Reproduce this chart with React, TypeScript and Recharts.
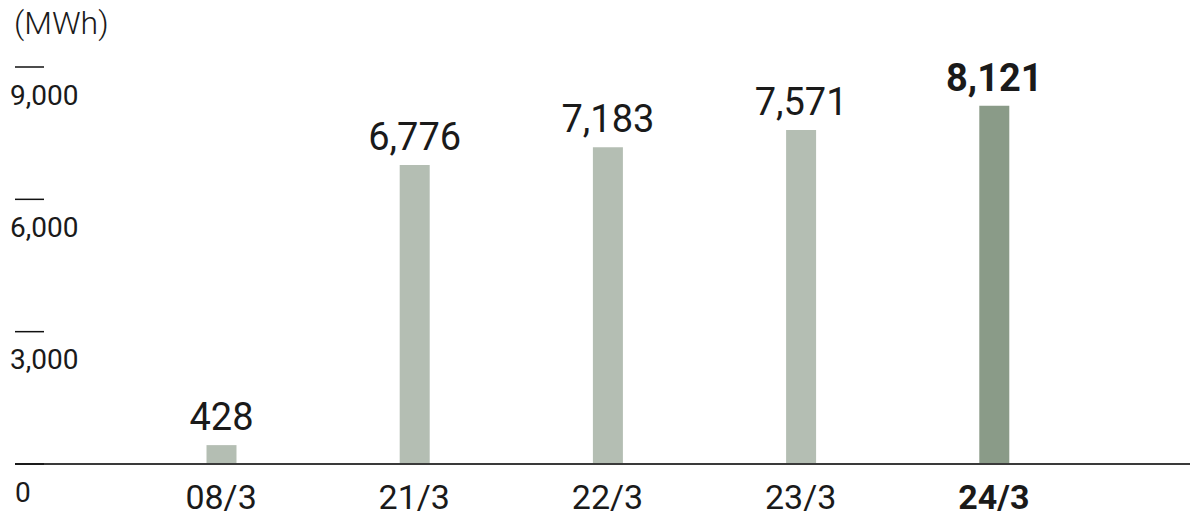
import { BarChart, Bar, XAxis, YAxis, Cell, LabelList } from "recharts";

const periods = ["08/3", "21/3", "22/3", "23/3", "24/3"];
const energyMWh = [428, 6776, 7183, 7571, 8121];
const yTicks = [0, 3000, 6000, 9000];
const latestPeriod = "24/3";

const data = periods.map((period, i) => ({ period, value: energyMWh[i] }));

const TEXT = "#1a1a1a";

function YTick({ y, payload }: any) {
  const v = payload.value as number;
  return (
    <g>
      <line x1={15} x2={44} y1={y} y2={y} stroke="#111" strokeWidth={1.5} />
      <text
        x={v === 0 ? 15 : 10}
        y={y + 28}
        dominantBaseline="central"
        fontSize={28}
        fill={TEXT}
        fontFamily="Roboto"
      >
        {v.toLocaleString("en-US")}
      </text>
    </g>
  );
}

function XTick({ x, y, payload }: any) {
  const bold = payload.value === latestPeriod;
  return (
    <text
      x={x}
      y={y + 33}
      textAnchor="middle"
      dominantBaseline="central"
      fontSize={34}
      fontWeight={bold ? 700 : 400}
      fill={TEXT}
      fontFamily="Roboto"
    >
      {payload.value}
    </text>
  );
}

function ValueLabel({ x, y, width, value, index }: any) {
  const bold = periods[index] === latestPeriod;
  return (
    <text
      x={x + width / 2}
      y={y - 15}
      textAnchor="middle"
      fontSize={38}
      fontWeight={bold ? 700 : 400}
      fill={TEXT}
      fontFamily="Roboto"
    >
      {Number(value).toLocaleString("en-US")}
    </text>
  );
}

export default function App() {
  return (
    <div
      style={{
        position: "relative",
        width: 1200,
        height: 520,
        margin: "-8px 0 0 -8px",
      }}
    >
      <svg
        width={200}
        height={50}
        style={{ position: "absolute", left: 0, top: 0 }}
      >
        <text
          x={14}
          y={23}
          dominantBaseline="central"
          fontSize={32}
          fontWeight={300}
          fill={TEXT}
          fontFamily="Roboto"
        >
          (MWh)
        </text>
      </svg>
      <BarChart
        width={1200}
        height={520}
        data={data}
        margin={{ top: 67, right: 10, left: 0, bottom: 26 }}
        style={{ fontFamily: "Roboto" }}
      >
        <XAxis
          dataKey="period"
          height={30}
          axisLine={{ stroke: "#3a3a3a", strokeWidth: 2 }}
          tickLine={false}
          tickSize={0}
          tickMargin={0}
          padding={{ left: 109.5, right: 99.5 }}
          tick={<XTick />}
          interval={0}
        />
        <YAxis
          width={15}
          domain={[0, 9000]}
          ticks={yTicks}
          axisLine={false}
          tickLine={false}
          tick={<YTick />}
          interval={0}
        />
        <Bar dataKey="value" barSize={30} isAnimationActive={false}>
          {data.map((d) => (
            <Cell
              key={d.period}
              fill={d.period === latestPeriod ? "#8a9b88" : "#b4beb3"}
            />
          ))}
          <LabelList dataKey="value" content={<ValueLabel />} />
        </Bar>
      </BarChart>
    </div>
  );
}
